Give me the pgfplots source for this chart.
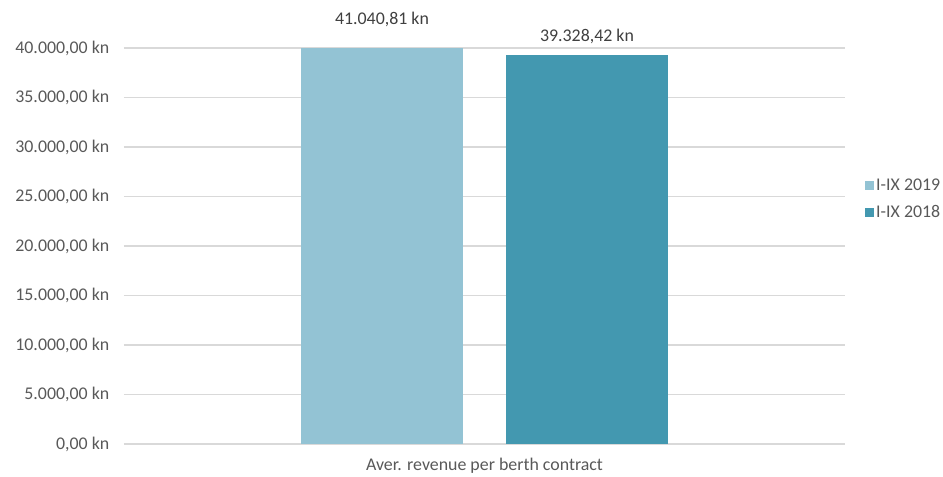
\documentclass[border=0pt]{standalone}
\usepackage{fontspec}
\setmainfont{Carlito}
\usepackage{pgfplots}
\pgfplotsset{compat=1.18}
\definecolor{barA}{HTML}{93C3D4}
\definecolor{barB}{HTML}{4398B0}
\definecolor{gridc}{HTML}{D9D9D9}
\definecolor{txt}{HTML}{595959}
\definecolor{lbl}{HTML}{404040}
\pgfplotsset{
  knlabel/.style={
    nodes near coords={\pgfmathprintnumber[fixed,fixed zerofill,precision=2,1000 sep={.},dec sep={,},assume math mode=true]{\pgfplotspointmeta}~kn},
    every node near coord/.append style={text=lbl, yshift=4.5pt, xshift=#1, font=\fontsize{13.4}{16}\selectfont},
  }
}
\begin{document}
\begin{tikzpicture}[font=\fontsize{13.4}{16}\selectfont]
\path[use as bounding box] (-93pt,-24.75pt) rectangle (614.25pt,333pt);
\begin{axis}[
  scale only axis, width=540.75pt, height=297pt,
  at={(0,0)}, anchor=south west,
  ymin=0, ymax=40000, xmin=-1, xmax=1,
  clip=false,
  scaled y ticks=false,
  ytick={0,5000,10000,15000,20000,25000,30000,35000,40000},
  xtick={0}, xticklabels={Aver. revenue per berth contract},
  ymajorgrids, grid style={gridc, line width=0.9pt},
  axis line style={draw=none}, major tick length=0pt,
  ticklabel style={text=txt},
  yticklabel={\pgfmathprintnumber[fixed,fixed zerofill,precision=2,1000 sep={.},dec sep={,},assume math mode=true]{\tick}~kn},
  yticklabel style={xshift=-7.5pt},
  xticklabel style={yshift=-7pt},
  legend style={draw=none, fill=none, at={(1.0277,0.618)}, anchor=west, inner sep=0pt,
    row sep=7pt, font=\fontsize{13.4}{16}\selectfont, text=txt,
    nodes={inner sep=1.5pt}},
  legend cell align=left,
  legend image code/.code={\fill[#1] (0pt,-3.375pt) rectangle (6.75pt,3.375pt);},
]
% visible bar, cut at the top of the axis as in the reference
\addplot[ybar, fill=barA, draw=none, bar width=121.5pt, bar shift=-76.875pt,
  restrict y to domain*=0:40000] coordinates {(0,41040.81)};
\addlegendentry{I-IX 2019}
\addplot[ybar, fill=barB, draw=none, bar width=121.5pt, bar shift=76.875pt, knlabel=76.875pt] coordinates {(0,39328.42)};
\addlegendentry{I-IX 2018}
% label of the first bar at its true value
\addplot[ybar, draw=none, fill=none, bar width=121.5pt, bar shift=-76.875pt, knlabel=-76.875pt, forget plot] coordinates {(0,41040.81)};
\end{axis}
\end{tikzpicture}
\end{document}
